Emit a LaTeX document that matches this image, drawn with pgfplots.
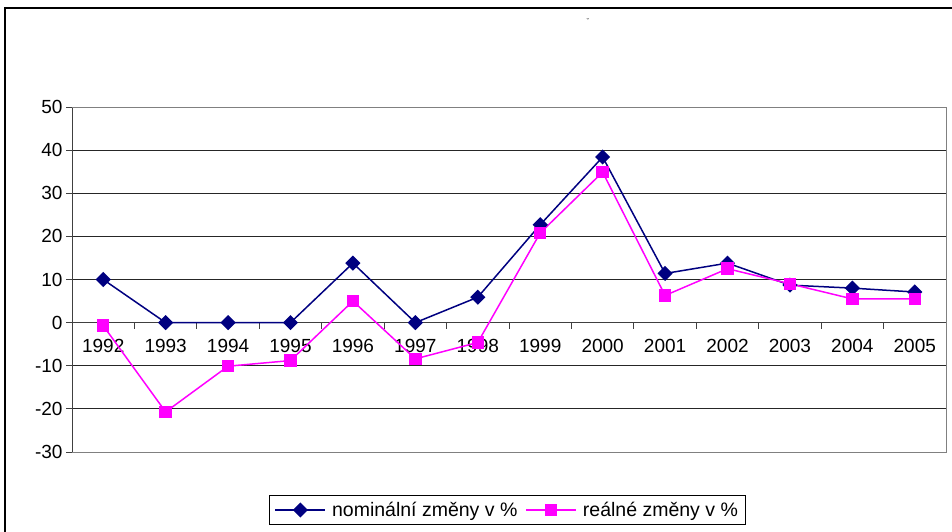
\documentclass[border=0pt]{standalone}
\usepackage{fontspec}
\setmainfont{Liberation Sans}
\usepackage{pgfplots}
\pgfplotsset{compat=1.18}
\definecolor{navyc}{RGB}{0,0,128}
\definecolor{magc}{RGB}{255,0,255}
\begin{document}
\begin{tikzpicture}
\useasboundingbox (0pt,0pt) rectangle (952pt,-532pt);
\draw[line width=2.2pt] (5pt,-8pt) rectangle (975pt,-560pt);
\node[font=\fontsize{8}{9}\selectfont, black!80] at (588pt,-22pt) {ˇ};
\begin{axis}[
 at={(72pt,-452pt)}, anchor=south west,
 scale only axis, width=874pt, height=345pt,
 xmin=-0.5, xmax=13.5, ymin=-30, ymax=50,
 axis x line=middle, axis y line=left,
 axis line style={-, black!75, line width=0.9pt},
 xtick={0,...,13},
 xticklabels={1992,1993,1994,1995,1996,1997,1998,1999,2000,2001,2002,2003,2004,2005},
 major x tick style={draw=none},
 minor xtick={-0.5,0.5,...,13.5},
 minor x tick style={black!75, line width=0.8pt},
 minor tick length=6pt,
 xtick align=outside,
 ytick={-30,-20,...,50},
 ytick align=outside, major tick length=6pt,
 major y tick style={black!75, line width=0.8pt},
 ymajorgrids, grid style={black!85, line width=0.8pt},
 tick label style={font=\fontsize{19}{21}\selectfont},
 /pgf/number format/assume math mode=true,
 xticklabel style={yshift=-7pt},
 clip=false,
 legend style={at={(0.498,-0.168)}, anchor=center, legend columns=2, draw=black, line width=0.8pt,
   font=\fontsize{19.5}{21}\selectfont, inner xsep=5pt, inner ysep=5pt,
   /tikz/every odd column/.append style={column sep=4pt},
   /tikz/every even column/.append style={column sep=6pt}},
 legend image code/.code={\draw[mark repeat=2,mark phase=2,#1] plot coordinates {(0pt,0pt) (25pt,0pt) (50pt,0pt)};},
]
\draw[black!50, line width=1pt] (rel axis cs:0,0) -- (rel axis cs:1,0) -- (rel axis cs:1,1) -- (rel axis cs:0,1);
\addplot[navyc, line width=1.5pt, mark=square*, mark size=4.6pt, mark options={rotate=45, solid, fill=navyc}]
 coordinates {(0,10.0) (1,0) (2,0) (3,0) (4,13.8) (5,0) (6,5.9) (7,22.7) (8,38.4) (9,11.4) (10,13.8) (11,8.7) (12,8.0) (13,7.1)};
\addlegendentry{nominální změny v \%}
\addplot[magc, line width=1.5pt, mark=square*, mark size=5.5pt, mark options={solid, fill=magc}]
 coordinates {(0,-0.7) (1,-20.7) (2,-10.1) (3,-8.8) (4,5.0) (5,-8.4) (6,-4.6) (7,20.8) (8,34.9) (9,6.3) (10,12.5) (11,9.0) (12,5.5) (13,5.5)};
\addlegendentry{reálné změny v \%}
\end{axis}
\end{tikzpicture}
\end{document}
